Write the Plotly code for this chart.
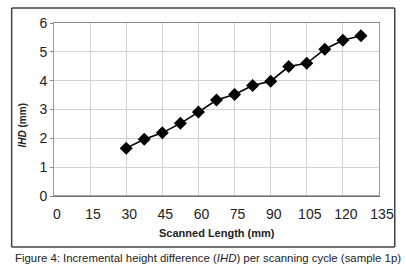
import plotly.graph_objects as go

scanned_length = [30, 37.5, 45, 52.5, 60, 67.5, 75, 82.5, 90, 97.5, 105, 112.5, 120, 127.5]
ihd = [1.66, 1.97, 2.19, 2.52, 2.91, 3.33, 3.52, 3.83, 3.98, 4.49, 4.6, 5.09, 5.4, 5.56]
x_ticks = [0, 15, 30, 45, 60, 75, 90, 105, 120, 135]
y_ticks = [0, 1, 2, 3, 4, 5, 6]
caption = "Figure 4: Incremental height difference (<i>IHD</i>) per scanning cycle (sample 1p)"

W, H = 406, 272
L, R, T, B = 54, 384, 23, 196  # plot area in px

def px(x):
    return (x - L) / (R - L)

def py(y):
    return (B - y) / (B - T)

fig = go.Figure()
fig.add_trace(go.Scatter(
    x=scanned_length, y=ihd, mode="lines+markers",
    line=dict(color="black", width=1.6),
    marker=dict(symbol="diamond", size=10, color="black"),
    showlegend=False,
))

fig.update_layout(
    width=W, height=H,
    margin=dict(l=L, r=W - R, t=T, b=H - B),
    paper_bgcolor="white", plot_bgcolor="white",
    font=dict(family="Arial, Liberation Sans, sans-serif", color="#222"),
    xaxis=dict(
        range=[0, 135], tickvals=x_ticks, showgrid=True,
        gridcolor="#d2d2d2", gridwidth=1,
        showline=True, linecolor="#888", mirror=True, linewidth=1,
        zeroline=False, tickfont=dict(size=14, color="#222"), ticks="",
        ticklabelstandoff=5, ticklabelshift=3,
    ),
    yaxis=dict(
        range=[0, 6], tickvals=y_ticks, showgrid=True,
        gridcolor="#d2d2d2", gridwidth=1,
        showline=True, linecolor="#999", mirror=True, linewidth=1,
        zeroline=False, tickfont=dict(size=14, color="#222"),
        ticks="outside", ticklen=3, tickcolor="#888",
    ),
)

# bottom axis darker line
fig.add_shape(type="line", xref="paper", yref="paper", x0=0, x1=1, y0=0, y1=0,
              line=dict(color="#555", width=1.2))

# outer frame, drawn as four lines
fx0, fx1, fy0, fy1 = px(11), px(400), py(247), py(8)
for (a, b, c, d) in [(fx0, fy0, fx1, fy0), (fx0, fy1, fx1, fy1),
                     (fx0, fy0, fx0, fy1), (fx1, fy0, fx1, fy1)]:
    fig.add_shape(type="line", xref="paper", yref="paper",
                  x0=a, y0=b, x1=c, y1=d, line=dict(color="#444", width=1.5))

fig.add_annotation(text="<b>Scanned Length (mm)</b>", xref="paper", yref="paper",
                   x=px(220), y=py(233), xanchor="center", yanchor="middle",
                   showarrow=False, font=dict(size=11, color="#222"))
fig.add_annotation(text="<b><i>IHD</i> (mm)</b>", xref="paper", yref="paper",
                   x=px(22), y=py(125), xanchor="center", yanchor="middle",
                   showarrow=False, textangle=-90,
                   font=dict(size=10, color="#222"))
fig.add_annotation(text=caption, xref="paper", yref="paper",
                   x=px(12), y=py(258), xanchor="left", yanchor="middle",
                   showarrow=False, font=dict(size=11.4, color="#222"))

fig.write_html("out.html", config={"displayModeBar": False},
               post_script="document.body.style.margin='0';document.body.style.overflow='hidden';")
